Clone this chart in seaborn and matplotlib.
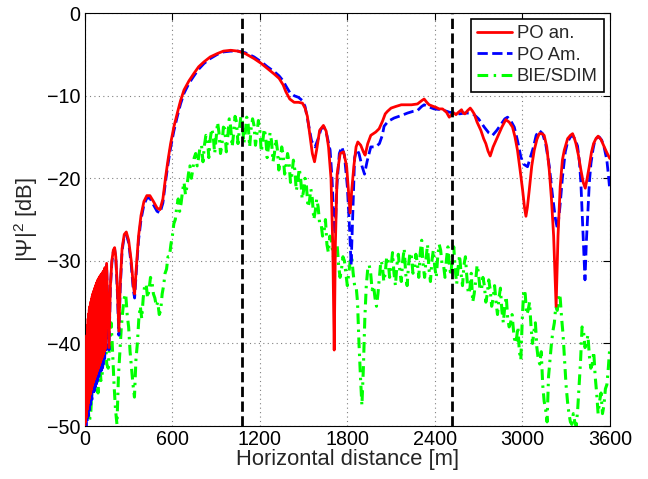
import numpy as np
import pandas as pd
import matplotlib
matplotlib.use("Agg")
import matplotlib.pyplot as plt
import seaborn as sns

# PO analytical (red): dense ripple near the source, then the smooth part
red_x = list(range(0, 142, 2)) + [
    149, 165, 175, 185, 195, 204, 212, 222, 233, 242, 255, 270, 284, 300, 318, 332, 341, 352,
    368, 385, 405, 425, 446, 470, 495, 515, 535, 554, 570, 588, 610, 634, 656, 680, 714,
    748, 780, 817, 860, 908, 950, 1000, 1050, 1100, 1160, 1210, 1252, 1300, 1332, 1360,
    1378, 1405, 1435, 1465, 1492, 1510, 1526, 1545, 1560, 1575, 1590, 1610, 1636, 1655,
    1671, 1688, 1700, 1710, 1718, 1730, 1751, 1774, 1795, 1808, 1819, 1830, 1845, 1860,
    1872, 1892, 1910, 1922, 1940, 1961, 1995, 2018, 2041, 2060, 2075, 2100, 2133, 2170,
    2201, 2240, 2281, 2310, 2327, 2345, 2361, 2390, 2407, 2430, 2453, 2480, 2499, 2515,
    2533, 2545, 2556, 2570, 2583, 2595, 2606, 2625, 2643, 2656, 2670, 2690, 2716, 2735,
    2750, 2765, 2780, 2800, 2830, 2860, 2887, 2910, 2933, 2950, 2967, 2985, 3002, 3015,
    3025, 3035, 3048, 3065, 3082, 3100, 3116, 3135, 3150, 3168, 3185, 3200, 3215, 3232,
    3245, 3260, 3275, 3288, 3311, 3330, 3345, 3358, 3368, 3385, 3402, 3418, 3432, 3445,
    3459, 3475, 3489, 3505, 3520, 3540, 3562, 3580, 3600]
red_y = [-50, -48, -49.5, -44, -49, -41, -48.5, -39, -48, -37.8, -47.6, -37, -47.2, -36.4,
         -46.8, -35.9, -46.5, -35.5, -46.2, -35.2, -45.9, -34.9, -45.6, -34.6, -45.3, -34.3,
         -45, -34, -44.8, -33.8, -44.6, -33.6, -44.4, -33.4, -44.2, -33.2, -44, -33, -43.8,
         -32.8, -43.6, -32.6, -43.4, -32.4, -43.2, -32.3, -43, -32.2, -42.8, -32, -42.6,
         -31.9, -42.4, -31.8, -42.2, -31.7, -42, -31.6, -41.8, -31.5, -41.6, -31.4, -41.4,
         -31.3, -41.2, -31.2, -41, -31, -40.8, -30.8, -40.6,
         -30.3, -40.5, -33, -30, -28.7, -28.4, -29.5, -33, -38.5, -33, -28.5, -26.8, -26.5,
         -27.5, -30, -33, -34, -31, -27, -24.5, -22.8, -22.1, -22.1, -22.8, -23.6, -23.8,
         -22.5, -19.8, -17.8, -15.8, -13.8, -12.1, -10.6, -9.3, -8.2, -7.3, -6.5, -5.9, -5.3,
         -4.9, -4.6, -4.5, -4.6, -4.9, -5.5, -6.1, -6.7, -7.4, -7.9, -8.7, -9.5, -10.4, -10.8,
         -10.8, -10.9, -11.5, -12.5, -15, -17, -18, -16.5, -14.2, -13.6, -14.3, -16.2, -20,
         -28, -40.8, -28, -19.5, -17, -16.8, -18.5, -21.5, -24.2, -21.5, -18.5, -16.2, -15.6,
         -16, -16.8, -17.2, -15.8, -14.8, -14.4, -14, -13.1, -12.2, -11.9, -11.5, -11.3,
         -11.1, -11.1, -11.1, -11.0, -10.6, -10.4, -10.8, -11.1, -11.3, -11.4, -11.6, -11.6,
         -12, -12.6, -12.3, -12.1, -12.3, -12.1, -11.9, -11.7, -12.1, -12.2, -11.8, -11.5,
         -11.8, -12.2, -13.2, -14.2, -15.2, -15.8, -16.7, -17.3, -16.2, -15, -13.8, -12.9,
         -13.2, -13.8, -15, -16.6, -19, -21.4, -23.5, -24.6, -23.5, -21.4, -18.5, -16.6,
         -15.3, -14.6, -14.6, -14.8, -16.2, -19, -22.5, -27, -35.5, -27, -21, -17.8, -16.6,
         -15.2, -14.8, -14.6, -15.2, -15.8, -17.2, -19, -20.5, -21.2, -20, -18.6, -16.8,
         -15.8, -15.2, -14.9, -15.3, -16.2, -16.9, -17.6]

# PO Am. (blue)
blue_x = [0, 4, 8, 12, 16, 20, 24, 28, 32, 36, 40, 44, 48, 52, 56, 60, 64, 68, 72, 76,
          80, 84, 88, 92, 96, 100, 104, 108, 112, 116, 120, 124, 128, 132, 136, 140, 144, 149,
          165, 175, 185, 195, 204, 212, 222, 233, 242, 255, 270, 284, 300, 318, 332, 341, 352,
          368, 385, 405, 425, 446, 470, 495, 515, 535, 554, 570, 588, 610, 634, 656, 680, 714,
          748, 780, 817, 860, 908, 950, 1000, 1050, 1100, 1160, 1210, 1252, 1300, 1332, 1360,
          1378, 1405, 1435, 1465, 1492, 1510, 1533, 1555, 1579, 1600, 1620, 1640, 1660, 1682,
          1695, 1705, 1716, 1728, 1745, 1762, 1780, 1800, 1815, 1826, 1838, 1850, 1865, 1880,
          1900, 1918, 1935, 1961, 1995, 2020, 2040, 2052, 2080, 2121, 2170, 2213, 2250, 2281,
          2310, 2327, 2350, 2396, 2450, 2500, 2533, 2570, 2602, 2640, 2670, 2700, 2739, 2770,
          2796, 2825, 2853, 2880, 2899, 2920, 2945, 2968, 2990, 3010, 3036, 3055, 3077, 3095,
          3116, 3140, 3162, 3185, 3208, 3228, 3242, 3258, 3276, 3295, 3311, 3330, 3345, 3362,
          3379, 3392, 3402, 3415, 3430, 3440, 3448, 3460, 3471, 3485, 3498, 3512, 3528, 3545,
          3562, 3580, 3590, 3600]
blue_y = [-50, -47, -50, -43, -49.5, -40, -48.8, -38, -48.2, -37, -47.4, -36, -46.8, -35.5,
          -46.2, -35, -45.8, -34.5, -45.3, -34, -44.9, -33.5, -44.5, -33, -44, -32.6, -43.7,
          -32.2, -43.3, -31.9, -43, -31.6, -42.5, -31.3, -42, -31, -41, -30.5, -40.8, -33.2,
          -30.2, -28.9, -28.6, -29.7, -33.5, -39, -33.5, -28.8, -27, -26.8, -27.8, -30.5,
          -33.5, -34.5, -31.5, -27.5, -25, -23.2, -22.4, -22.4, -23.2, -24, -24.2, -23, -20.3,
          -18.3, -16.3, -14.3, -12.5, -11, -9.7, -8.5, -7.6, -6.8, -6.1, -5.5, -5.0, -4.7,
          -4.6, -4.6, -4.8, -5.3, -5.9, -6.5, -7.1, -7.6, -8.2, -8.8, -9.6, -10, -10.2, -10.6,
          -11.3, -13.4, -15.5, -16.2, -15.2, -14, -13.8, -14.8, -16.6, -20, -24.2, -26.8, -21,
          -17, -16.2, -17.2, -21, -26, -30.5, -24, -17.5, -16.5, -17, -18.5, -19.5, -18,
          -16.2, -16.2, -15.8, -14.8, -13.7, -13.1, -12.7, -12.4, -12.1, -11.9, -11.8, -11.3,
          -11.1, -11.3, -11.6, -11.7, -12, -12.1, -12.2, -12.1, -12.1, -12.3, -12.8, -13.8,
          -14.5, -14.8, -14.2, -13.5, -12.8, -12.6, -13, -13.8, -15.5, -17.4, -18.3, -18.6,
          -17.5, -16.2, -14.8, -14.2, -14.6, -16, -18.5, -22.2, -25, -26.2, -23.5, -19.8,
          -16.8, -15.6, -15, -14.8, -15.3, -16.1, -18, -20.6, -26, -32.3, -27.5, -24.6, -20.5,
          -18.2, -16.5, -15.4, -15.1, -15, -15.4, -16.3, -17.8, -19.5, -21.4]

# BIE/SDIM (green), sampled every 10 m
green_x = np.arange(0, 3601, 10)
green_y = [
    -50, -46, -47.5, -49.5, -48.5, -45, -45.5, -43, -44, -46,
    -42, -44.5, -43.5, -40, -39.5, -42.5, -43, -40, -37.5, -41,
    -45, -48, -49.8, -44, -41, -38, -36, -34.5, -34, -36.5,
    -38, -41, -43, -45, -46.5, -42, -40, -37, -35.5, -37,
    -34.5, -33, -32.8, -34.5, -33.5, -32, -32.5, -34, -34.5, -35.5,
    -35, -36.5, -36, -34, -33, -31.5, -31, -29.5, -29.5, -28,
    -27, -25.5, -25, -23.5, -22.5, -24, -23, -21.5, -20.5, -22,
    -21, -19.5, -18.5, -20, -19, -17.5, -17, -18.5, -17.5, -16.2,
    -16, -18, -16, -14.8, -15, -17.5, -15.2, -14, -14.8, -17,
    -15.2, -13.2, -14.5, -17, -16, -13.8, -14, -16.8, -15, -12.8,
    -13.8, -16.2, -14.6, -12.5, -13.2, -15.8, -14, -12.5, -13, -15.8,
    -14.5, -12.6, -13.5, -16.2, -14, -12.8, -13.6, -16, -14.6, -13,
    -14.2, -16.8, -15.5, -14, -15, -17.5, -16, -14.5, -15.5, -18,
    -17, -15.2, -16.5, -19, -17.8, -16.2, -17.2, -19.5, -18.5, -17,
    -18, -20.5, -19.5, -17.8, -19, -21.5, -20.5, -18.8, -20, -22.5,
    -21.5, -20, -21, -23.5, -22.8, -21.3, -22.5, -25, -24, -22.5,
    -23.5, -25.5, -25.5, -27, -26.5, -25, -28, -29, -27, -27.5,
    -29, -30, -28.5, -28, -30.5, -32, -31, -29.5, -30, -31.5,
    -33, -31.5, -30, -29.5, -31.5, -33, -33, -35, -40, -44,
    -47.5, -43, -37, -33, -31, -30.5, -31.5, -33.5, -33, -34.5,
    -35.5, -34, -32, -30, -30.5, -32.5, -31.5, -29.5, -30, -32,
    -30.8, -29, -31.5, -33, -30.5, -29.2, -31.2, -32.5, -30, -28.5,
    -31.5, -33, -30.5, -29, -29.5, -31.5, -31, -29.2, -30.2, -32,
    -29, -27.5, -30.5, -32, -29.8, -28, -31, -32.5, -30, -28.7,
    -30.8, -32, -29.5, -28, -28.7, -30.5, -30.5, -32, -29.8, -28.3,
    -30.5, -31.8, -29.5, -28.3, -31, -32.8, -30.8, -29.3, -31.5, -33,
    -30.5, -29.5, -32, -34, -33.5, -31.5, -35, -34, -32.5, -30.5,
    -31.5, -33.5, -33.5, -32, -33, -35, -34, -32.3, -33.5, -35.5,
    -34.5, -33, -35, -36.5, -34.5, -33.3, -36, -37.5, -35.5, -34.3,
    -37, -38, -37.5, -36.5, -38.5, -40, -39.5, -38, -41, -42,
    -37, -33.5, -34, -36.5, -36, -35, -38, -40, -38.5, -37.5,
    -40.5, -42, -42.5, -41, -45, -47, -48, -49.5, -44, -42,
    -40, -38.5, -37.5, -35.5, -36, -34, -34.5, -37, -39, -42,
    -45, -47, -48.5, -49.5, -49.8, -48.5, -49.5, -50, -48, -45,
    -42, -38, -38.5, -40.5, -40, -39, -41.5, -43, -42.5, -41,
    -44, -46, -48.5, -47, -46, -48.5, -47.5, -45.5, -45, -43,
    -40.5]

marker_x = [1075, 2515]
x_ticks = [0, 600, 1200, 1800, 2400, 3000, 3600]
y_ticks = [-50, -40, -30, -20, -10, 0]

sns.set_theme(style="white")
plt.rcParams["font.family"] = ["Liberation Sans", "DejaVu Sans"]
plt.rcParams["mathtext.fontset"] = "custom"
plt.rcParams["mathtext.rm"] = "Liberation Sans"

fig = plt.figure(figsize=(6.48, 4.79), dpi=100)
ax = fig.add_axes([0.131, 0.1106, 0.81, 0.862])

red_df = pd.DataFrame({"x": red_x, "y": red_y})
blue_df = pd.DataFrame({"x": blue_x, "y": blue_y})
green_df = pd.DataFrame({"x": green_x, "y": green_y})

sns.lineplot(data=green_df, x="x", y="y", ax=ax, sort=False, estimator=None,
             color="#00ff00", linewidth=2.2, linestyle=(0, (3.5, 1.8, 0.8, 1.8)),
             label="BIE/SDIM", zorder=2)
sns.lineplot(data=blue_df, x="x", y="y", ax=ax, sort=False, estimator=None,
             color="#0000ff", linewidth=2.0, linestyle="--", label="PO Am.", zorder=3)
sns.lineplot(data=red_df, x="x", y="y", ax=ax, sort=False, estimator=None,
             color="#ff0000", linewidth=2.0, label="PO an.", zorder=4)

# marker lines at the two reference distances
for mx in marker_x:
    ax.axvline(mx, color="black", linestyle="--", linewidth=2.0, zorder=5)

ax.set_xlim(0, 3600)
ax.set_ylim(-50, 0)
ax.set_xticks(x_ticks)
ax.set_yticks(y_ticks)
ax.set_yticklabels(["\u221250", "\u221240", "\u221230", "\u221220", "\u221210", "0"])
ax.grid(True, linestyle=(0, (1, 3)), color="#808080", linewidth=0.8)
ax.tick_params(direction="in", top=True, right=True, length=5, width=0.8,
               labelsize=14.2, colors="black", pad=3)
for s in ax.spines.values():
    s.set_color("black")
    s.set_linewidth(0.8)

ax.set_xlabel("Horizontal distance [m]", fontsize=15.8, labelpad=0)
ax.set_ylabel("|\u03a8|$^{2}$ [dB]", fontsize=15.8, labelpad=5)

handles, labels = ax.get_legend_handles_labels()
order = [2, 1, 0]
leg = ax.legend([handles[i] for i in order], [labels[i] for i in order],
                loc="upper right", fontsize=13.3, fancybox=False, framealpha=1,
                edgecolor="black", borderaxespad=0.3, handlelength=1.9,
                handletextpad=0.25, labelspacing=0.25, borderpad=0.35)
leg.get_frame().set_linewidth(1.2)
leg.set_zorder(10)

fig.savefig("out.png", dpi=100)
